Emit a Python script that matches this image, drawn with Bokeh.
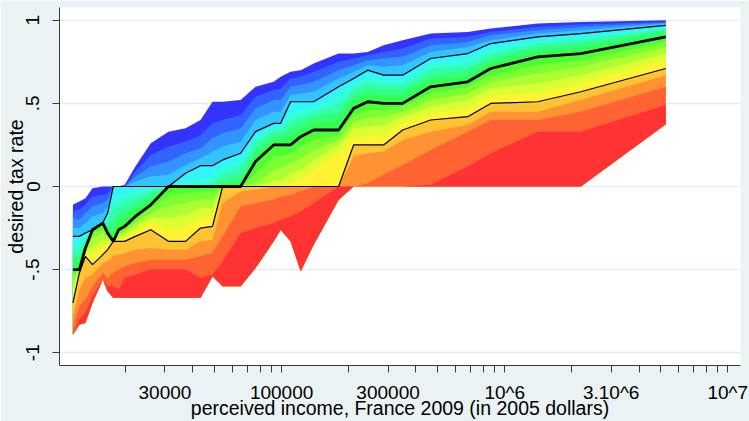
from bokeh.plotting import figure
from bokeh.models import Range1d, FixedTicker
from bokeh.embed import file_html
from bokeh.resources import INLINE

# Perceived income grid (2005 dollars)
income = [11600, 12400, 13200, 14200, 15800, 16600, 17600, 18600, 19800, 22100,
          25900, 31100, 37100, 43300, 49000, 54400, 65500, 76400, 92100, 99000,
          109700, 121700, 139200, 180100, 210300, 243100, 286700, 348800, 465700,
          682600, 865400, 1406000, 2192000, 5272000]

# Quantiles of the desired tax rate at each income level (5th ... 95th percentile)
q05 = [-0.89, -0.83, -0.82, -0.70, -0.56, -0.63, -0.67, -0.67, -0.67, -0.67, -0.67, -0.67, -0.67, -0.67, -0.54, -0.60, -0.60, -0.49, -0.33, -0.26, -0.33, -0.51, -0.35, -0.08, 0, 0, 0, 0, 0, 0, 0, 0, 0, 0.375]
q10 = [-0.89, -0.80, -0.76, -0.66, -0.56, -0.60, -0.60, -0.62, -0.55, -0.53, -0.50, -0.50, -0.50, -0.55, -0.53, -0.45, -0.28, -0.25, -0.22, -0.20, -0.18, -0.15, -0.10, 0, 0, 0, 0, 0, 0.01, 0.12, 0.20, 0.33, 0.33, 0.49]
q15 = [-0.85, -0.72, -0.68, -0.60, -0.52, -0.55, -0.52, -0.50, -0.48, -0.46, -0.44, -0.44, -0.44, -0.42, -0.40, -0.30, -0.12, -0.10, -0.08, -0.06, -0.05, -0.03, 0, 0, 0, 0.02, 0.07, 0.13, 0.22, 0.33, 0.40, 0.40, 0.45, 0.60]
q20 = [-0.78, -0.62, -0.55, -0.53, -0.46, -0.45, -0.42, -0.41, -0.40, -0.38, -0.37, -0.38, -0.38, -0.33, -0.32, -0.10, -0.03, -0.02, 0, 0, 0, 0, 0, 0, 0.18, 0.20, 0.21, 0.28, 0.33, 0.37, 0.45, 0.45, 0.52, 0.67]
q25 = [-0.70, -0.52, -0.42, -0.47, -0.41, -0.38, -0.33, -0.33, -0.33, -0.30, -0.26, -0.33, -0.33, -0.25, -0.24, 0, 0, 0, 0, 0, 0, 0, 0, 0, 0.25, 0.25, 0.25, 0.34, 0.40, 0.42, 0.50, 0.51, 0.57, 0.71]
q30 = [-0.66, -0.51, -0.41, -0.41, -0.36, -0.35, -0.33, -0.32, -0.31, -0.27, -0.22, -0.26, -0.25, -0.19, -0.18, 0, 0, 0, 0, 0, 0.02, 0.04, 0.10, 0.20, 0.30, 0.30, 0.31, 0.38, 0.44, 0.47, 0.55, 0.56, 0.62, 0.76]
q35 = [-0.62, -0.51, -0.40, -0.36, -0.32, -0.33, -0.33, -0.31, -0.29, -0.24, -0.19, -0.19, -0.17, -0.13, -0.13, 0, 0, 0, 0.03, 0.04, 0.08, 0.10, 0.16, 0.25, 0.35, 0.36, 0.37, 0.42, 0.48, 0.52, 0.59, 0.62, 0.67, 0.80]
q40 = [-0.57, -0.50, -0.39, -0.31, -0.28, -0.31, -0.33, -0.29, -0.27, -0.22, -0.16, -0.12, -0.10, -0.08, -0.08, 0, 0, 0.02, 0.10, 0.11, 0.14, 0.17, 0.22, 0.28, 0.39, 0.41, 0.42, 0.45, 0.52, 0.56, 0.63, 0.68, 0.72, 0.84]
q45 = [-0.53, -0.50, -0.38, -0.28, -0.25, -0.29, -0.33, -0.27, -0.26, -0.20, -0.13, -0.05, -0.04, -0.03, -0.03, 0, 0, 0.08, 0.18, 0.18, 0.20, 0.24, 0.28, 0.31, 0.43, 0.46, 0.46, 0.48, 0.56, 0.60, 0.67, 0.73, 0.76, 0.87]
q50 = [-0.50, -0.50, -0.37, -0.26, -0.22, -0.28, -0.33, -0.26, -0.24, -0.18, -0.11, 0, 0, 0, 0, 0, 0, 0.15, 0.25, 0.25, 0.25, 0.30, 0.34, 0.34, 0.47, 0.51, 0.50, 0.50, 0.60, 0.63, 0.71, 0.78, 0.80, 0.90]
q55 = [-0.47, -0.45, -0.35, -0.26, -0.22, -0.26, -0.27, -0.21, -0.19, -0.14, -0.08, 0, 0, 0, 0, 0.01, 0.03, 0.19, 0.28, 0.28, 0.30, 0.34, 0.38, 0.40, 0.51, 0.55, 0.54, 0.54, 0.64, 0.66, 0.74, 0.81, 0.83, 0.92]
q60 = [-0.42, -0.42, -0.33, -0.26, -0.22, -0.24, -0.20, -0.16, -0.14, -0.10, -0.05, 0, 0, 0, 0, 0.04, 0.07, 0.23, 0.31, 0.31, 0.35, 0.38, 0.42, 0.45, 0.55, 0.59, 0.58, 0.58, 0.67, 0.70, 0.77, 0.84, 0.86, 0.935]
q65 = [-0.38, -0.38, -0.31, -0.26, -0.22, -0.21, -0.13, -0.11, -0.09, -0.06, -0.03, 0, 0, 0, 0.02, 0.08, 0.11, 0.27, 0.34, 0.34, 0.40, 0.42, 0.45, 0.50, 0.59, 0.63, 0.61, 0.61, 0.71, 0.73, 0.80, 0.86, 0.88, 0.95]
q70 = [-0.34, -0.34, -0.29, -0.26, -0.22, -0.19, -0.07, -0.05, -0.04, -0.02, -0.01, 0, 0.03, 0.05, 0.07, 0.12, 0.16, 0.30, 0.36, 0.36, 0.45, 0.46, 0.48, 0.55, 0.62, 0.66, 0.64, 0.64, 0.74, 0.77, 0.83, 0.88, 0.90, 0.96]
q75 = [-0.30, -0.30, -0.28, -0.26, -0.22, -0.16, 0, 0, 0, 0, 0, 0, 0.08, 0.125, 0.125, 0.16, 0.20, 0.33, 0.38, 0.38, 0.51, 0.51, 0.51, 0.60, 0.65, 0.70, 0.67, 0.67, 0.77, 0.80, 0.86, 0.90, 0.92, 0.97]
q80 = [-0.25, -0.25, -0.22, -0.18, -0.16, -0.12, 0, 0, 0, 0.03, 0.06, 0.07, 0.13, 0.17, 0.21, 0.24, 0.27, 0.40, 0.45, 0.45, 0.55, 0.56, 0.57, 0.65, 0.69, 0.73, 0.72, 0.73, 0.81, 0.84, 0.88, 0.92, 0.94, 0.98]
q85 = [-0.19, -0.20, -0.16, -0.12, -0.10, -0.08, 0, 0, 0, 0.06, 0.12, 0.15, 0.20, 0.23, 0.29, 0.32, 0.35, 0.47, 0.52, 0.52, 0.60, 0.61, 0.63, 0.70, 0.73, 0.76, 0.77, 0.78, 0.85, 0.87, 0.91, 0.94, 0.96, 0.985]
q90 = [-0.15, -0.14, -0.11, -0.06, -0.05, -0.04, 0, 0, 0, 0.09, 0.19, 0.24, 0.27, 0.31, 0.38, 0.40, 0.43, 0.54, 0.58, 0.59, 0.65, 0.66, 0.69, 0.75, 0.77, 0.79, 0.81, 0.83, 0.89, 0.90, 0.93, 0.96, 0.975, 0.99]
q95 = [-0.11, -0.09, -0.07, -0.01, 0, 0, 0, 0, 0.01, 0.12, 0.26, 0.33, 0.35, 0.40, 0.51, 0.51, 0.52, 0.60, 0.63, 0.66, 0.69, 0.70, 0.74, 0.80, 0.80, 0.81, 0.85, 0.88, 0.92, 0.93, 0.95, 0.98, 0.99, 1.00]

quantiles = [q05, q10, q15, q20, q25, q30, q35, q40, q45, q50,
             q55, q60, q65, q70, q75, q80, q85, q90, q95]

# One colour per band between consecutive quantiles, red (low) to blue (high)
band_colors = ["#FF3333", "#FF6333", "#FF9333", "#FFC333", "#FFF333", "#DBFF33",
               "#ABFF33", "#7BFF33", "#4BFF33", "#33FF4B", "#33FF7B", "#33FFAB",
               "#33FFDB", "#33F3FF", "#33C3FF", "#3393FF", "#3363FF", "#3333FF"]

# Axis ticks and labels
x_major_ticks = [30000, 100000, 300000, 1000000, 3000000, 10000000]
x_tick_labels = ["30000", "100000", "300000", "10^6", "3.10^6", "10^7"]
x_minor_ticks = [20000, 40000, 50000, 60000, 70000, 80000, 90000,
                 200000, 400000, 500000, 600000, 700000, 800000, 900000,
                 2000000, 4000000, 5000000, 6000000, 7000000, 8000000, 9000000]
y_ticks = [-1, -0.5, 0, 0.5, 1]
y_tick_labels = ["-1", "-.5", "0", ".5", "1"]

FONT = "Liberation Sans"
BG = "#EAF2F3"

p = figure(width=749, height=421, x_axis_type="log",
           x_range=Range1d(10100, 1.14e7), y_range=Range1d(-1.077, 1.077),
           output_backend="svg", toolbar_location=None,
           min_border_left=59, min_border_right=9,
           min_border_top=7, min_border_bottom=52)
p.border_fill_color = BG
p.background_fill_color = "white"
p.outline_line_color = None

# Stack the bands from the top down so each lower band paints over the previous
base = quantiles[0]
for k in range(len(band_colors) - 1, -1, -1):
    p.varea(x=income, y1=base, y2=quantiles[k + 1], fill_color=band_colors[k])

# Quartile lines
p.line(income, q25, line_color="black", line_width=1.2)
p.line(income, q75, line_color="black", line_width=1.2)
p.line(income, q50, line_color="black", line_width=2.8)

# Grid
p.xgrid.grid_line_color = None
p.ygrid.grid_line_color = "#E4EDF0"
p.ygrid.grid_line_width = 1.5

# X axis
xa = p.xaxis[0]
xa.ticker = FixedTicker(ticks=x_major_ticks, minor_ticks=x_minor_ticks)
xa.major_label_overrides = {t: s for t, s in zip(x_major_ticks, x_tick_labels)}
xa.axis_label = "perceived income, France 2009 (in 2005 dollars)"

# Y axis
ya = p.yaxis[0]
ya.ticker = FixedTicker(ticks=y_ticks, minor_ticks=[])
ya.major_label_overrides = {t: s for t, s in zip(y_ticks, y_tick_labels)}
ya.major_label_orientation = "vertical"
ya.axis_label = "desired tax rate"

for ax in (xa, ya):
    ax.axis_line_color = "#3A3A3A"
    ax.axis_line_width = 1
    ax.major_tick_line_color = "#3A3A3A"
    ax.minor_tick_line_color = "#3A3A3A"
    ax.major_tick_in = 0
    ax.major_tick_out = 7
    ax.minor_tick_in = 0
    ax.minor_tick_out = 7
    ax.major_label_text_font = FONT
    ax.major_label_text_font_size = "19px"
    ax.major_label_text_color = "black"
    ax.axis_label_text_font = FONT
    ax.axis_label_text_font_size = "19.5px"
    ax.axis_label_text_font_style = "normal"
    ax.axis_label_text_color = "black"

xa.major_label_standoff = 9
xa.axis_label_standoff = -9
ya.major_label_standoff = 13
ya.axis_label_standoff = -3
ya.minor_tick_line_color = None

open("out.html", "w").write(file_html(p, INLINE))
